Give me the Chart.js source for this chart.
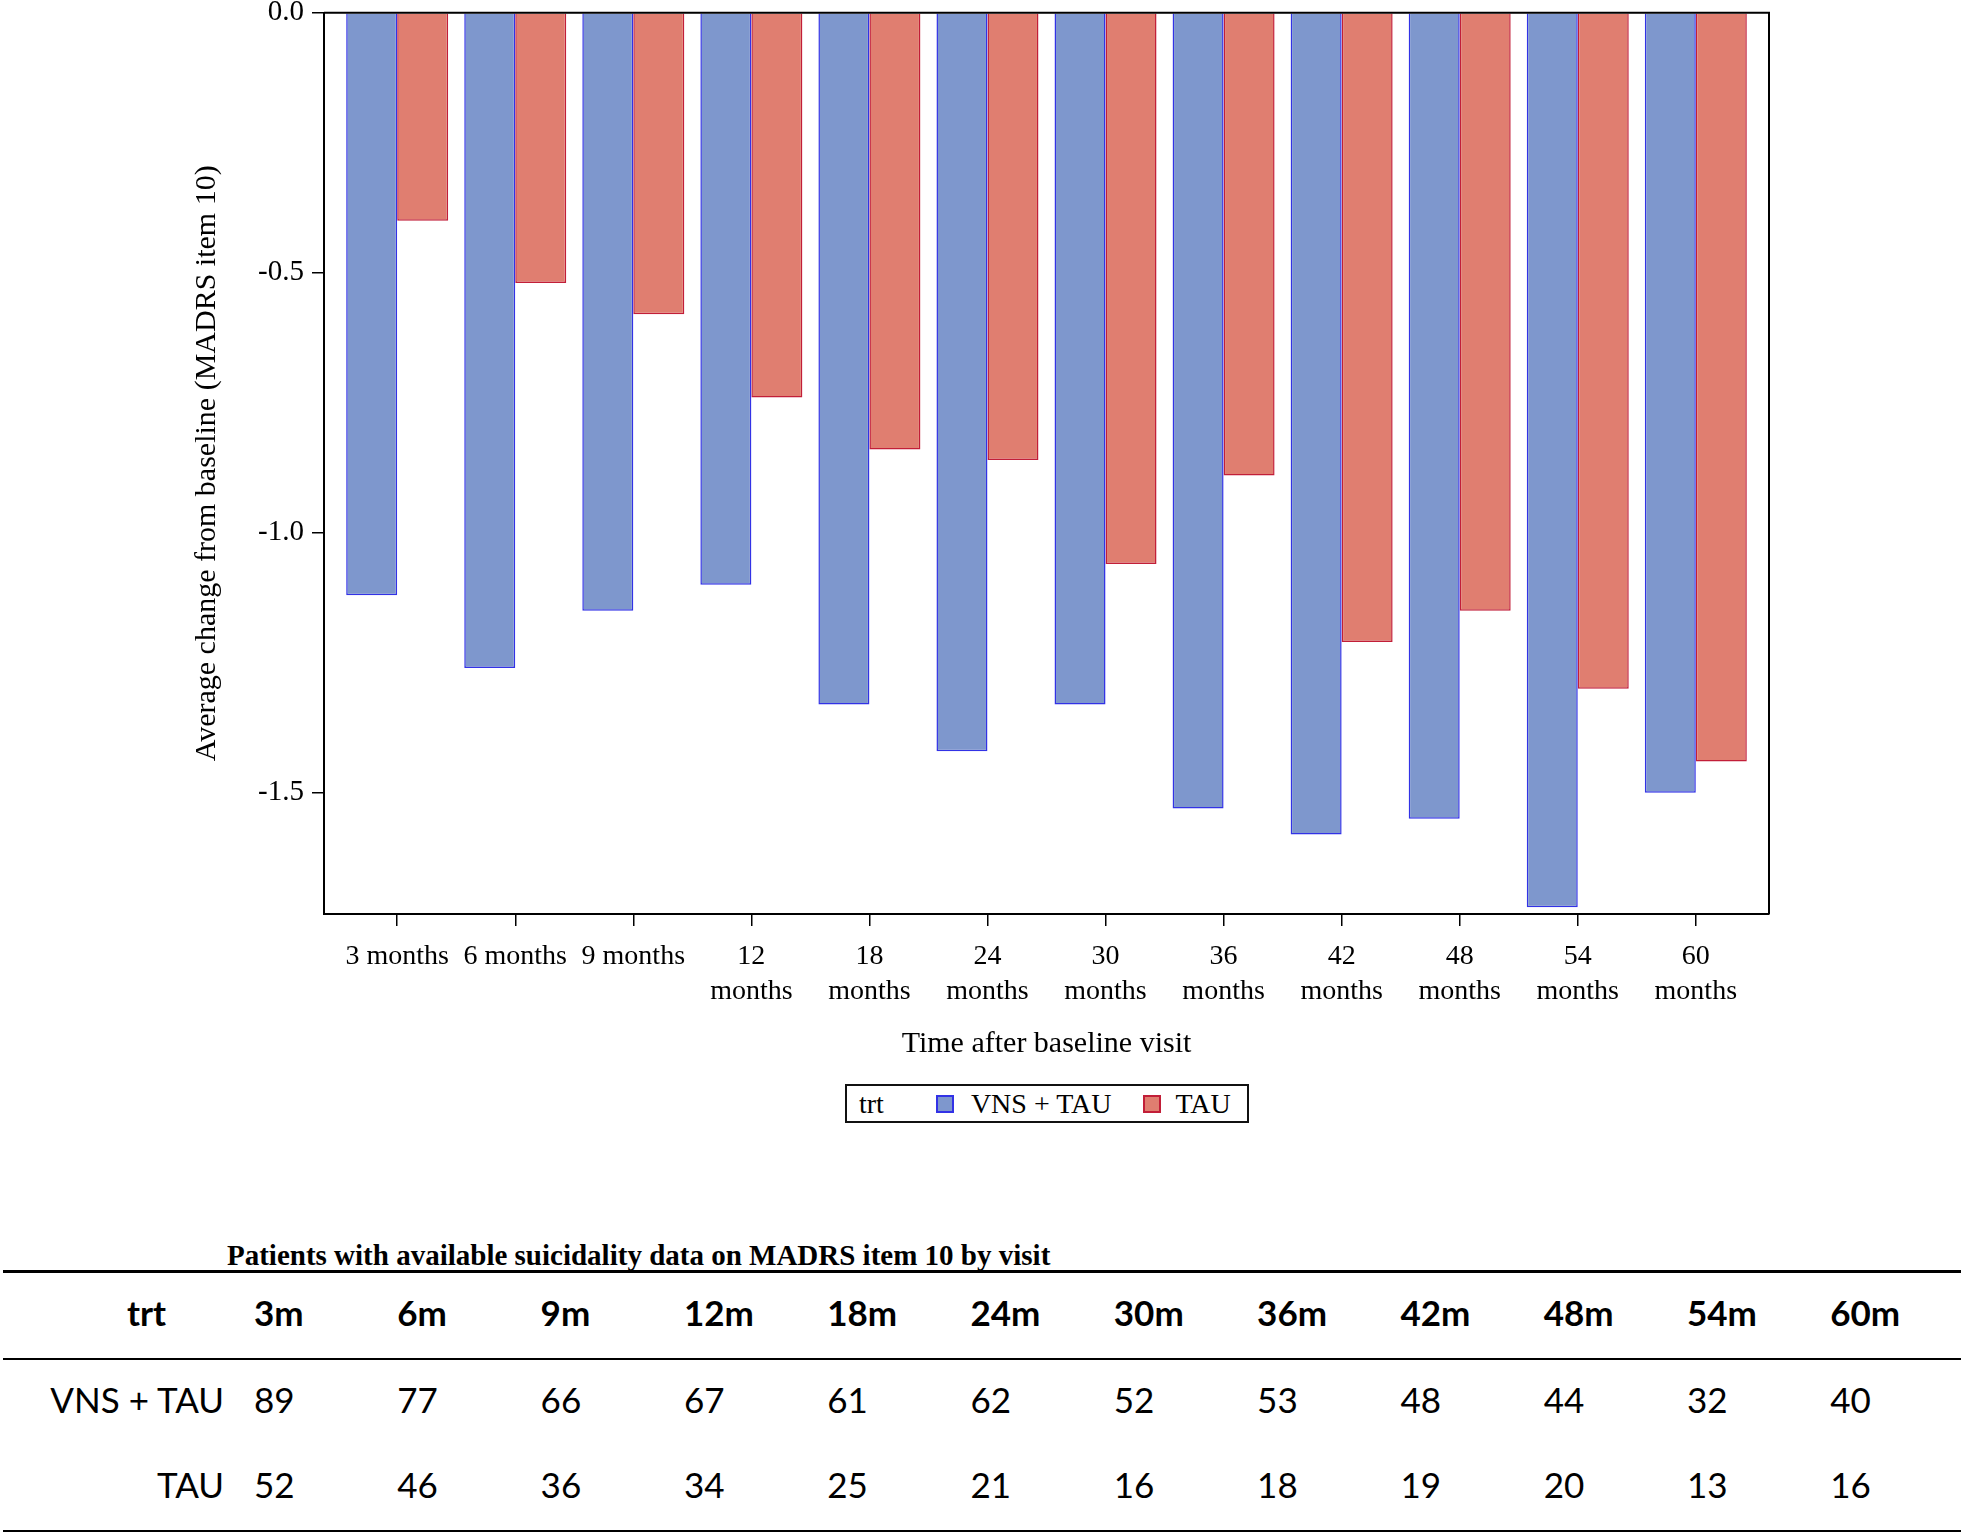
<!DOCTYPE html>
<html>
<head>
<meta charset="utf-8">
<title>Change in MADRS item 10 by visit</title>
<script src="https://cdn.jsdelivr.net/npm/chart.js@4.4.1/dist/chart.umd.min.js"></script>
<style>
    body { margin: 0; background: #fff; width: 1961px; height: 1532px; position: relative; overflow: hidden; }
    #chart { position: absolute; left: 0; top: 0; }
    #legend {
        position: absolute; left: 845px; top: 1084px; width: 404px; height: 39px;
        box-sizing: border-box; border: 2px solid #111;
        display: flex; align-items: center;
        font-family: "Liberation Serif", serif; font-size: 28px; color: #000;
    }
    #legend .swatch { width: 18px; height: 18px; box-sizing: border-box; border: 2px solid; }
    #tableTitle {
        position: absolute; left: 227px; top: 1240px; line-height: 30px;
        font-family: "Liberation Serif", serif; font-weight: bold; font-size: 29px; color: #000;
    }
    #counts {
        position: absolute; left: 3px; top: 1270px; width: 1958px;
        border-collapse: collapse; table-layout: fixed;
        font-family: Lato, sans-serif; font-size: 35px; color: #000;
        border-top: 3px solid #000; border-bottom: 3px solid #000;
    }
    #counts th, #counts td { padding: 0 0 7px 0; text-align: left; font-weight: normal; white-space: nowrap; }
    #counts thead th { font-weight: bold; height: 78px; border-bottom: 2px solid #000; }
    #counts tbody td { height: 78px; }
    #counts .rowLabel { text-align: right; padding-right: 30px; }
    #counts thead .rowLabel { padding-right: 88px; }
</style>
</head>
<body>
<canvas id="chart" width="1961" height="1080"></canvas>
<div id="legend"></div>
<div id="tableTitle">Patients with available suicidality data on MADRS item 10 by visit</div>
<table id="counts"></table>

<script>
// Visits (months after baseline)
const visits = ['3m', '6m', '9m', '12m', '18m', '24m', '30m', '36m', '42m', '48m', '54m', '60m'];
const tickLabels = [
    ['3 months'], ['6 months'], ['9 months'],
    ['12', 'months'], ['18', 'months'], ['24', 'months'], ['30', 'months'],
    ['36', 'months'], ['42', 'months'], ['48', 'months'], ['54', 'months'], ['60', 'months']
];
const yTicks = [-1.5, -1.0, -0.5, 0.0];

// Average change from baseline
const vnsTauChange = [-1.12, -1.26, -1.15, -1.10, -1.33, -1.42, -1.33, -1.53, -1.58, -1.55, -1.72, -1.50];
const tauChange = [-0.40, -0.52, -0.58, -0.74, -0.84, -0.86, -1.06, -0.89, -1.21, -1.15, -1.30, -1.44];

// Patients with data per visit (table under the chart)
const groupNames = ['VNS + TAU', 'TAU'];
const vnsTauPatients = [89, 77, 66, 67, 61, 62, 52, 53, 48, 44, 32, 40];
const tauPatients = [52, 46, 36, 34, 25, 21, 16, 18, 19, 20, 13, 16];

const serif = '"Liberation Serif", "Times New Roman", serif';

// box around the plot area (top + right sides, the axes draw the rest)
const framePlugin = {
    id: 'frame',
    afterDatasetsDraw(chart) {
        const { ctx, chartArea: a } = chart;
        ctx.save();
        ctx.strokeStyle = '#000';
        ctx.lineWidth = 2;
        ctx.beginPath();
        ctx.moveTo(a.left, a.top);
        ctx.lineTo(a.right, a.top);
        ctx.lineTo(a.right, a.bottom);
        ctx.stroke();
        ctx.restore();
    }
};

const chart = new Chart(document.getElementById('chart').getContext('2d'), {
    type: 'bar',
    data: {
        datasets: [
            {
                label: groupNames[0],
                data: vnsTauChange.map((v, i) => ({ x: i, y: v })),
                backgroundColor: '#7E97CD',
                borderColor: '#3232E6',
                borderWidth: 1.5
            },
            {
                label: groupNames[1],
                data: tauChange.map((v, i) => ({ x: i, y: v })),
                backgroundColor: '#E07E70',
                borderColor: '#C21E38',
                borderWidth: 1.5
            }
        ]
    },
    options: {
        responsive: false,
        animation: false,
        categoryPercentage: 0.864,
        barPercentage: 1.0,
        layout: { padding: { left: 170, right: 192, top: 0, bottom: 0 } },
        plugins: {
            legend: { display: false },
            tooltip: { enabled: false }
        },
        scales: {
            x: {
                type: 'linear',
                min: -0.62,
                max: 11.62,
                offset: false,
                afterBuildTicks: s => { s.ticks = visits.map((v, i) => ({ value: i })); },
                afterFit: s => { s.height = 166; },
                grid: { offset: false, drawOnChartArea: false, drawTicks: true, tickLength: 12, color: '#000', lineWidth: 1.5 },
                border: { display: true, color: '#000', width: 2 },
                ticks: {
                    autoSkip: false,
                    maxRotation: 0,
                    padding: 13,
                    color: '#000',
                    font: { family: serif, size: 28, lineHeight: 1.25 },
                    callback: v => tickLabels[v]
                },
                title: {
                    display: true,
                    text: 'Time after baseline visit',
                    color: '#000',
                    font: { family: serif, size: 30, lineHeight: 1.2 },
                    padding: { top: 0, bottom: 18 }
                }
            },
            y: {
                min: -1.733,
                max: 0,
                afterBuildTicks: s => { s.ticks = yTicks.map(v => ({ value: v })); },
                afterFit: s => { s.width = 154; },
                grid: { drawOnChartArea: false, drawTicks: true, tickLength: 12, color: '#000', lineWidth: 1.5 },
                border: { display: true, color: '#000', width: 2 },
                ticks: {
                    padding: 8,
                    color: '#000',
                    // small line height keeps the plot top close to the page edge
                    font: { family: serif, size: 29, lineHeight: 0.32 },
                    callback: v => v.toFixed(1)
                },
                title: {
                    display: true,
                    text: 'Average change from baseline (MADRS item 10)',
                    color: '#000',
                    font: { family: serif, size: 30, lineHeight: 1.2 },
                    padding: { top: 19, bottom: 0 }
                }
            }
        }
    },
    plugins: [framePlugin]
});

// Legend built from the chart datasets
function buildLegend() {
    const legend = document.getElementById('legend');
    const title = document.createElement('span');
    title.textContent = 'trt';
    title.style.marginLeft = '12px';
    legend.appendChild(title);

    const gaps = [52, 31];
    chart.data.datasets.forEach((ds, i) => {
        const sw = document.createElement('span');
        sw.className = 'swatch';
        sw.style.background = ds.backgroundColor;
        sw.style.borderColor = ds.borderColor;
        sw.style.marginLeft = gaps[i] + 'px';
        legend.appendChild(sw);

        const label = document.createElement('span');
        label.textContent = ds.label;
        label.style.marginLeft = (i === 0 ? 17 : 15) + 'px';
        legend.appendChild(label);
    });
}

// Table of patient counts per visit
function buildTable() {
    const table = document.getElementById('counts');
    const colgroup = document.createElement('colgroup');
    const first = document.createElement('col');
    first.style.width = '251px';
    colgroup.appendChild(first);
    visits.forEach(() => {
        const col = document.createElement('col');
        col.style.width = '143.3px';
        colgroup.appendChild(col);
    });
    table.appendChild(colgroup);

    const thead = document.createElement('thead');
    const hr = document.createElement('tr');
    hr.innerHTML = '<th class="rowLabel">trt</th>' + visits.map(v => `<th>${v}</th>`).join('');
    thead.appendChild(hr);
    table.appendChild(thead);

    const tbody = document.createElement('tbody');
    [vnsTauPatients, tauPatients].forEach((row, i) => {
        const tr = document.createElement('tr');
        tr.innerHTML = `<td class="rowLabel">${groupNames[i]}</td>` + row.map(n => `<td>${n}</td>`).join('');
        tbody.appendChild(tr);
    });
    table.appendChild(tbody);
}

buildLegend();
buildTable();
</script>
</body>
</html>
